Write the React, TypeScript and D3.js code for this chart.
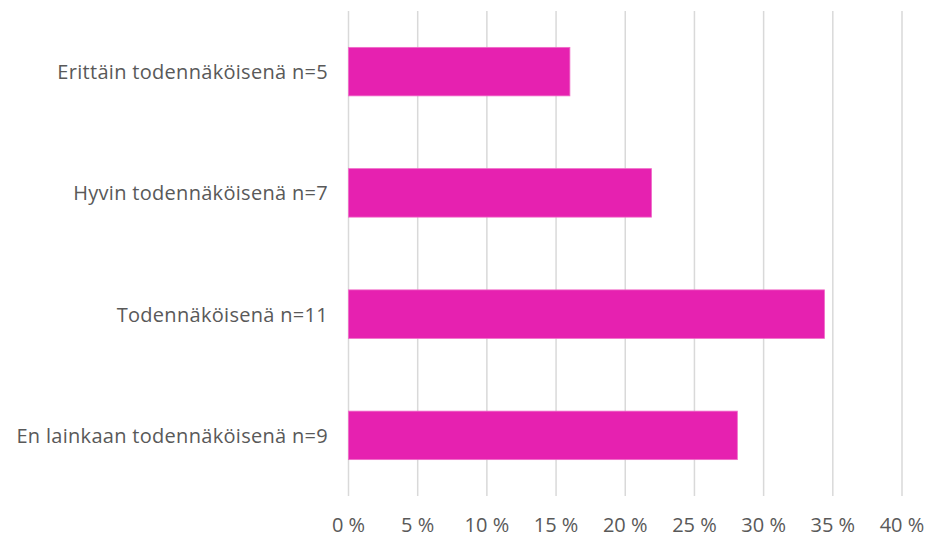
import React from "react";
import * as d3 from "d3";

const categories = [
  "Erittäin todennäköisenä n=5",
  "Hyvin todennäköisenä n=7",
  "Todennäköisenä n=11",
  "En lainkaan todennäköisenä n=9",
];
const values = [16.0, 21.9, 34.4, 28.1];
const ticks = [0, 5, 10, 15, 20, 25, 30, 35, 40];

const W = 927;
const H = 537;
const margin = { left: 348.5, right: 25, top: 11, bottom: 41 };

export default function App() {
  const x = d3.scaleLinear().domain([0, 40]).range([margin.left, W - margin.right]);
  const y = d3
    .scaleBand<string>()
    .domain(categories)
    .range([margin.top, H - margin.bottom])
    .paddingInner(0.6)
    .paddingOuter(0.3);
  const font = "'Open Sans', 'Noto Sans', sans-serif";
  return (
    <svg
      width={W}
      height={H}
      style={{ position: "absolute", left: 0, top: 0, background: "#fff" }}
    >
      {ticks.map((t) => (
        <line
          key={t}
          x1={x(t)}
          x2={x(t)}
          y1={margin.top}
          y2={H - margin.bottom}
          stroke="#d9d9d9"
          strokeWidth={1.5}
        />
      ))}
      {categories.map((c, i) => (
        <rect
          key={c}
          x={x(0)}
          y={y(c)}
          width={x(values[i]) - x(0)}
          height={y.bandwidth()}
          fill="#e621b0"
          stroke="#f06cc8"
          strokeWidth={0.8}
        />
      ))}
      {categories.map((c) => (
        <text
          key={c}
          x={328}
          y={(y(c) ?? 0) + y.bandwidth() / 2}
          textAnchor="end"
          dominantBaseline="central"
          fontFamily={font}
          fontSize={20}
          letterSpacing={0.3}
          fill="#595959"
        >
          {c}
        </text>
      ))}
      {ticks.map((t) => (
        <text
          key={t}
          x={x(t)}
          y={524}
          textAnchor="middle"
          dominantBaseline="central"
          fontFamily={font}
          fontSize={20}
          fill="#595959"
        >
          {`${t} %`}
        </text>
      ))}
    </svg>
  );
}
